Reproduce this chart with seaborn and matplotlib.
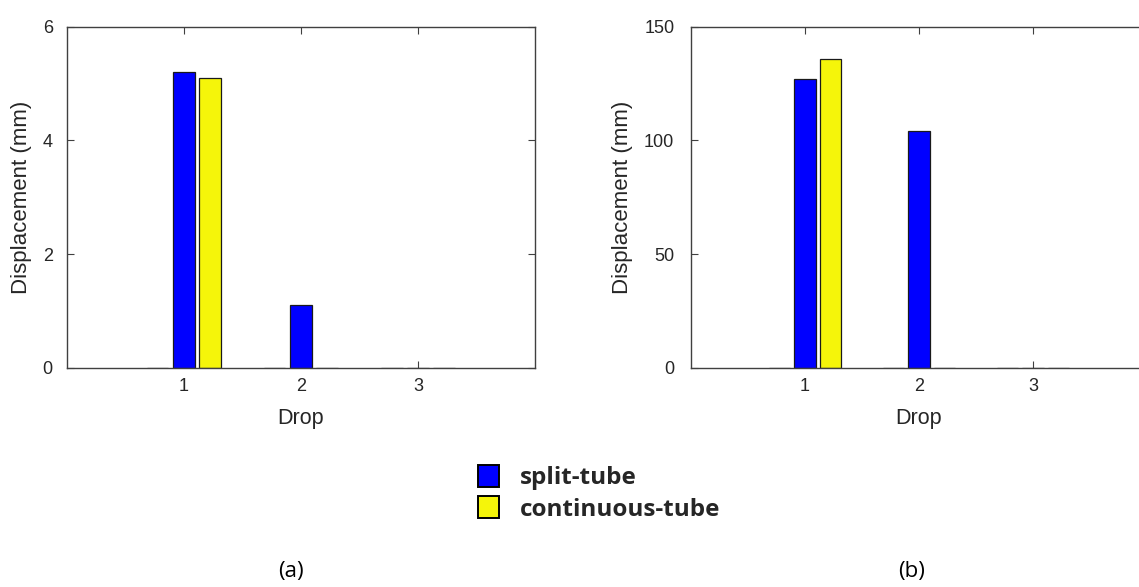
import matplotlib
matplotlib.use("Agg")
import matplotlib.pyplot as plt
import seaborn as sns
import pandas as pd
from matplotlib.patches import Patch

drops = ["1", "2", "3"]
series = ["baseline", "split-tube", "continuous-tube"]
colors = ["#7f0000", "#0000ff", "#f5f50a"]
disp_a_baseline = [0, 0, 0]
disp_a_split = [5.2, 1.1, 0]
disp_a_cont = [5.1, 0, 0]
disp_b_baseline = [0, 0, 0]
disp_b_split = [127, 104, 0]
disp_b_cont = [136, 0, 0]
yticks_a = [0, 2, 4, 6]
yticks_b = [0, 50, 100, 150]
panel_labels = ["(a)", "(b)"]

def make_df(base, split, cont):
    rows = []
    for s, vals in zip(series, [base, split, cont]):
        for d, v in zip(drops, vals):
            rows.append({"Drop": d, "Series": s, "Value": v})
    return pd.DataFrame(rows)

sns.set_theme(style="white")
plt.rcParams["font.family"] = ["Liberation Sans", "DejaVu Sans"]

W, H = 1139, 587
fig = plt.figure(figsize=(W / 100, H / 100), dpi=100)

def px_axes(x0, x1, y0, y1):
    return fig.add_axes([x0 / W, 1 - y1 / H, (x1 - x0) / W, (y1 - y0) / H])

ax_a = px_axes(66.7, 535, 26.7, 367.7)
ax_b = px_axes(691, 1147, 26.7, 367.7)

specs = [
    (ax_a, make_df(disp_a_baseline, disp_a_split, disp_a_cont), yticks_a, 10),
    (ax_b, make_df(disp_b_baseline, disp_b_split, disp_b_cont), yticks_b, 12),
]

for ax, df, yt, ypad in specs:
    sns.barplot(data=df, x="Drop", y="Value", hue="Series", order=drops,
                hue_order=series, palette=colors, width=0.675, gap=0.17,
                edgecolor="#1a1a1a", linewidth=0.9, ax=ax, legend=False,
                saturation=1, errorbar=None)
    ax.set_xlim(-1, 3)
    ax.set_ylim(yt[0], yt[-1])
    ax.set_yticks(yt)
    ax.set_yticklabels([str(v) for v in yt])
    ax.set_xlabel("Drop", fontsize=15.5, color="#262626", labelpad=9)
    ax.set_ylabel("Displacement (mm)", fontsize=16, color="#262626", labelpad=8)
    ax.tick_params(axis="both", which="both", direction="in", length=5,
                   width=0.8, color="#404040", top=True, right=True,
                   bottom=True, left=True, labelsize=13, labelcolor="#262626")
    ax.tick_params(axis="x", pad=7.5)
    ax.tick_params(axis="y", pad=ypad)
    for sp in ax.spines.values():
        sp.set_visible(True)
        sp.set_color("#404040")
        sp.set_linewidth(1.0)

handles = [Patch(facecolor=colors[1], edgecolor="black", linewidth=1.4),
           Patch(facecolor=colors[2], edgecolor="black", linewidth=1.4)]
fig.legend(handles, series[1:], loc="upper left",
           bbox_to_anchor=(477.7 / W, 1 - 465 / H),
           frameon=False, borderpad=0, borderaxespad=0,
           handlelength=0.86, handleheight=1.03, handletextpad=0.86,
           labelspacing=0.24,
           prop={"family": "Open Sans", "weight": "bold", "size": 17.5})

fig.text(291 / W, 1 - 572 / H, panel_labels[0], ha="center", va="center",
         fontsize=16, family="Open Sans", color="black")
fig.text(912 / W, 1 - 572 / H, panel_labels[1], ha="center", va="center",
         fontsize=16, family="Open Sans", color="black")

fig.savefig("out.png", dpi=100)
